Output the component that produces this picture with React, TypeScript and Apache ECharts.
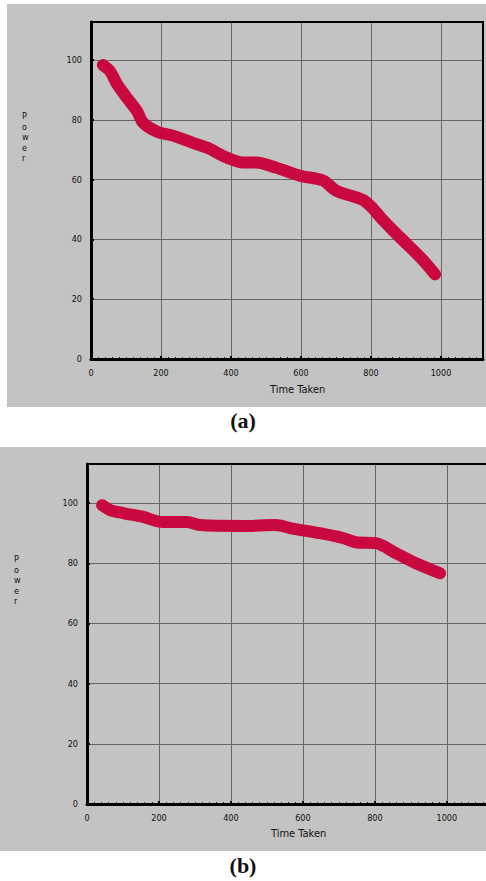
import React, { useEffect, useRef } from "react";
import * as echarts from "echarts";

const timeA = [34, 54, 74, 103, 131, 149, 189, 234, 291, 331, 389, 434, 471, 529, 597, 663, 700, 777, 800, 830, 863, 900, 949, 983];
const powerA = [98.3, 96.3, 92, 87.3, 83, 79, 76, 74.7, 72.3, 70.7, 67.3, 65.7, 65.7, 64, 61.3, 59.7, 56.3, 53.2, 51, 47, 43, 38.7, 33, 28.3];

const timeB = [42, 64, 100, 156, 211, 278, 314, 433, 525, 564, 647, 711, 747, 803, 858, 914, 981];
const powerB = [99.3, 97.7, 96.7, 95.4, 93.7, 93.7, 92.7, 92.4, 92.7, 91.7, 90, 88.4, 87, 86.7, 83.4, 80, 76.7];

const xTicks = [0, 200, 400, 600, 800, 1000];
const yTicks = [0, 20, 40, 60, 80, 100];
const xName = "Time Taken";
const yName = "Power";
const captions = ["(a)", "(b)"];

const LINE = "#C8083E";
const GRIDC = "#666666";
const FONT = "'Liberation Sans Narrow', 'DejaVu Sans Condensed', 'Liberation Sans', Arial, sans-serif";

function xAxisCfg(gridIndex: number, max: number) {
  return {
    type: "value",
    gridIndex,
    min: 0,
    max,
    interval: 200,
    axisLine: { show: true, onZero: false, lineStyle: { color: "#000", width: 3 } },
    axisTick: { show: true, inside: true, length: 3, lineStyle: { color: "#000", width: 2 } },
    minorTick: { show: true, splitNumber: 10, length: 2, lineStyle: { color: "#333", width: 1 } },
    axisLabel: {
      color: "#111",
      fontSize: 9,
      fontFamily: FONT,
      margin: 9,
      formatter: (v: number) => (xTicks.includes(v) ? String(v) : ""),
    },
    splitLine: { show: true, lineStyle: { color: GRIDC, width: 1 } },
  };
}

function yAxisCfg(gridIndex: number, max: number) {
  return {
    type: "value",
    gridIndex,
    min: 0,
    max,
    interval: 20,
    axisLine: { show: true, onZero: false, lineStyle: { color: "#000", width: 3 } },
    axisTick: { show: true, inside: true, length: 3, lineStyle: { color: "#000", width: 2 } },
    axisLabel: {
      color: "#111",
      fontSize: 9,
      fontFamily: FONT,
      margin: 9,
      formatter: (v: number) => (yTicks.includes(v) ? String(v) : ""),
    },
    splitLine: { show: true, lineStyle: { color: GRIDC, width: 1 } },
  };
}

export default function App() {
  const ref = useRef<HTMLDivElement>(null);
  useEffect(() => {
    if (!ref.current) return;
    const chart = echarts.init(ref.current, undefined, { renderer: "svg", width: 486, height: 881 });
    const dataA = timeA.map((t, i) => [t, powerA[i]]);
    const dataB = timeB.map((t, i) => [t, powerB[i]]);
    const stacked = yName.split("").join("\n");
    chart.setOption({
      animation: false,
      backgroundColor: "#ffffff",
      grid: [
        { left: 91, top: 22, width: 392, height: 337, show: true, borderColor: "#000", borderWidth: 2, backgroundColor: "transparent", z: 3, outerBoundsMode: "none", containLabel: false },
        { left: 87, top: 464, width: 403, height: 340, show: true, borderColor: "#000", borderWidth: 2, backgroundColor: "transparent", z: 3, outerBoundsMode: "none", containLabel: false },
      ],
      xAxis: [xAxisCfg(0, 1120), xAxisCfg(1, 1120)],
      yAxis: [yAxisCfg(0, 112.7), yAxisCfg(1, 113)],
      series: [
        {
          type: "line",
          xAxisIndex: 0,
          yAxisIndex: 0,
          data: dataA,
          smooth: 0.3,
          showSymbol: false,
          lineStyle: { color: LINE, width: 12, cap: "round", join: "round" },
          z: 5,
        },
        {
          type: "line",
          xAxisIndex: 1,
          yAxisIndex: 1,
          data: dataB,
          smooth: 0.3,
          showSymbol: false,
          lineStyle: { color: LINE, width: 12, cap: "round", join: "round" },
          z: 5,
        },
      ],
      graphic: [
        { type: "rect", z: -10, shape: { x: 7, y: 4, width: 479, height: 403 }, style: { fill: "#c3c3c3" } },
        { type: "rect", z: -10, shape: { x: 0, y: 447, width: 486, height: 404 }, style: { fill: "#c3c3c3" } },
        {
          type: "text", left: 22, top: 111,
          style: { text: stacked, fontSize: 9, lineHeight: 10.5, fontFamily: FONT, fill: "#111", align: "center" },
        },
        {
          type: "text", left: 14, top: 554,
          style: { text: stacked, fontSize: 9, lineHeight: 10.5, fontFamily: FONT, fill: "#111", align: "center" },
        },
        {
          type: "text", left: 270, top: 384,
          style: { text: xName, fontSize: 11, fontFamily: FONT, fill: "#111" },
        },
        {
          type: "text", left: 271, top: 828,
          style: { text: xName, fontSize: 11, fontFamily: FONT, fill: "#111" },
        },
        {
          type: "text", left: "center", top: 409,
          style: { text: captions[0], fontSize: 22, fontWeight: "bold", fontFamily: "'Liberation Serif', 'DejaVu Serif', serif", fill: "#111" },
        },
        {
          type: "text", left: "center", top: 854,
          style: { text: captions[1], fontSize: 22, fontWeight: "bold", fontFamily: "'Liberation Serif', 'DejaVu Serif', serif", fill: "#111" },
        },
      ],
    });
    return () => chart.dispose();
  }, []);
  return <div ref={ref} style={{ position: "absolute", left: 0, top: 0, width: 486, height: 881 }} />;
}
